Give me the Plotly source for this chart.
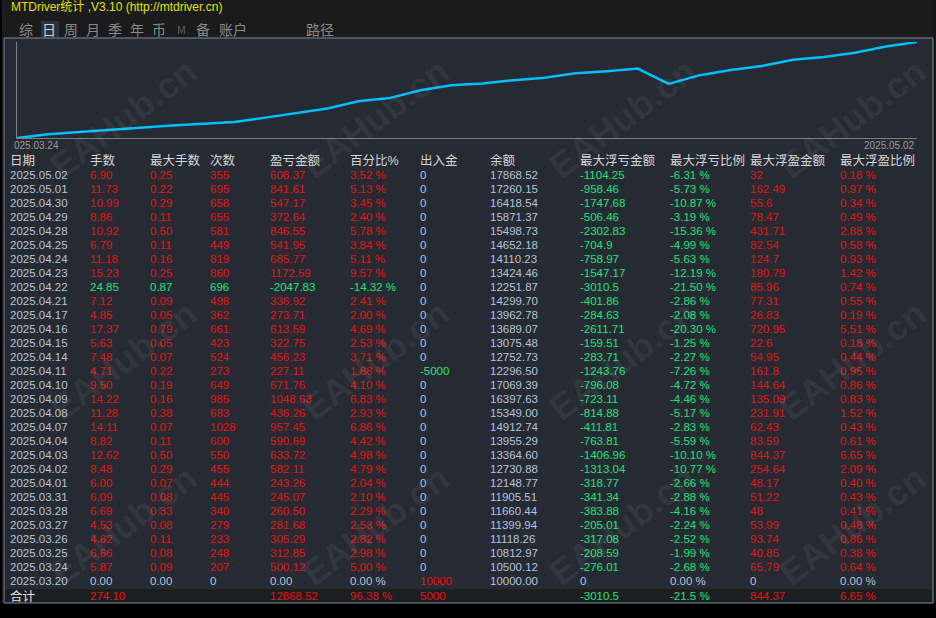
import numpy as np
import plotly.graph_objects as go

# ---- data ----
dates = ["2025.05.02", "2025.05.01", "2025.04.30", "2025.04.29", "2025.04.28", "2025.04.25",
         "2025.04.24", "2025.04.23", "2025.04.22", "2025.04.21", "2025.04.17", "2025.04.16",
         "2025.04.15", "2025.04.14", "2025.04.11", "2025.04.10", "2025.04.09", "2025.04.08",
         "2025.04.07", "2025.04.04", "2025.04.03", "2025.04.02", "2025.04.01", "2025.03.31",
         "2025.03.28", "2025.03.27", "2025.03.26", "2025.03.25", "2025.03.24", "2025.03.20"]
lots = [6.90, 11.73, 10.99, 8.86, 10.92, 6.79, 11.18, 15.23, 24.85, 7.12, 4.85, 17.37, 5.63, 7.48, 4.71,
        9.50, 14.22, 11.28, 14.11, 8.82, 12.62, 8.48, 6.00, 6.09, 6.69, 4.53, 4.62, 6.66, 5.87, 0.00]
max_lots = [0.25, 0.22, 0.29, 0.11, 0.50, 0.11, 0.16, 0.25, 0.87, 0.09, 0.05, 0.79, 0.05, 0.07, 0.22,
            0.19, 0.16, 0.38, 0.07, 0.11, 0.50, 0.29, 0.07, 0.08, 0.33, 0.08, 0.11, 0.08, 0.09, 0.00]
trades = [355, 695, 658, 655, 581, 449, 819, 860, 696, 498, 362, 661, 423, 524, 273,
          649, 985, 683, 1028, 600, 550, 455, 444, 445, 340, 279, 233, 248, 207, 0]
profit = [608.37, 841.61, 547.17, 372.64, 846.55, 541.95, 685.77, 1172.59, -2047.83, 336.92,
          273.71, 613.59, 322.75, 456.23, 227.11, 671.76, 1048.63, 436.26, 957.45, 590.69,
          633.72, 582.11, 243.26, 245.07, 260.50, 281.68, 305.29, 312.85, 500.12, 0.00]
profit_pct = [3.52, 5.13, 3.45, 2.40, 5.78, 3.84, 5.11, 9.57, -14.32, 2.41, 2.00, 4.69, 2.53, 3.71, 1.88,
              4.10, 6.83, 2.93, 6.86, 4.42, 4.98, 4.79, 2.04, 2.10, 2.29, 2.53, 2.82, 2.98, 5.00, 0.00]
cash_flow = [0, 0, 0, 0, 0, 0, 0, 0, 0, 0, 0, 0, 0, 0, -5000,
             0, 0, 0, 0, 0, 0, 0, 0, 0, 0, 0, 0, 0, 0, 10000]
balance = [17868.52, 17260.15, 16418.54, 15871.37, 15498.73, 14652.18, 14110.23, 13424.46, 12251.87,
           14299.70, 13962.78, 13689.07, 13075.48, 12752.73, 12296.50, 17069.39, 16397.63, 15349.00,
           14912.74, 13955.29, 13364.60, 12730.88, 12148.77, 11905.51, 11660.44, 11399.94, 11118.26,
           10812.97, 10500.12, 10000.00]
float_loss = [-1104.25, -958.46, -1747.68, -506.46, -2302.83, -704.9, -758.97, -1547.17, -3010.5,
              -401.86, -284.63, -2611.71, -159.51, -283.71, -1243.76, -796.08, -723.11, -814.88,
              -411.81, -763.81, -1406.96, -1313.04, -318.77, -341.34, -383.88, -205.01, -317.08,
              -208.59, -276.01, 0]
float_loss_pct = [-6.31, -5.73, -10.87, -3.19, -15.36, -4.99, -5.63, -12.19, -21.50, -2.86, -2.08,
                  -20.30, -1.25, -2.27, -7.26, -4.72, -4.46, -5.17, -2.83, -5.59, -10.10, -10.77,
                  -2.66, -2.88, -4.16, -2.24, -2.52, -1.99, -2.68, 0.00]
float_win = [32, 162.49, 55.6, 78.47, 431.71, 82.54, 124.7, 180.79, 85.96, 77.31, 26.83, 720.95,
             22.6, 54.95, 161.8, 144.64, 135.09, 231.91, 62.43, 83.59, 844.37, 254.64, 48.17,
             51.22, 48, 53.99, 93.74, 40.85, 65.79, 0]
float_win_pct = [0.18, 0.97, 0.34, 0.49, 2.88, 0.58, 0.93, 1.42, 0.74, 0.55, 0.19, 5.51, 0.18, 0.44,
                 0.95, 0.86, 0.83, 1.52, 0.43, 0.61, 6.65, 2.09, 0.40, 0.43, 0.41, 0.48, 0.86, 0.38,
                 0.64, 0.00]

headers = ["日期", "手数", "最大手数", "次数", "盈亏金额", "百分比%", "出入金", "余额",
           "最大浮亏金额", "最大浮亏比例", "最大浮盈金额", "最大浮盈比例"]
total_label = "合计"
total_lots = 274.10
total_profit = 12868.52
total_pct = 96.38
total_flow = 5000
total_float_loss = -3010.5
total_float_loss_pct = -21.5
total_float_win = 844.37
total_float_win_pct = 6.65

tabs = ["综", "日", "周", "月", "季", "年", "币", "M", "备", "账户", "路径"]
title = "MTDriver统计 ,V3.10 (http://mtdriver.cn)"

# ---- styling ----
W, H = 936, 618
RED = "#e81212"
GREEN = "#1fe37a"
LIGHT = "#b4c4da"
HEAD = "#d6d6d6"
PANEL = "#252a33"
FONT = "Arial, 'Liberation Sans', 'Noto Sans CJK SC', sans-serif"
CJK = "'Noto Sans CJK SC', sans-serif"
col_x = [10, 90, 150, 210, 270, 350, 420, 490, 580, 670, 750, 840]   # left edge of each column (px)


def px(x):
    return x / W


def py(y):
    return 1 - y / H


def sign_col(v):
    return RED if v > 0 else GREEN if v < 0 else LIGHT


def pct(v):
    return "{:.2f} %".format(v)


def g(v):
    return "{:g}".format(v)


# cell texts / colours, one list per column
n = len(dates)
day_colors = [sign_col(p) for p in profit]
columns = [
    (dates, [LIGHT] * n),
    (["{:.2f}".format(v) for v in lots], day_colors),
    (["{:.2f}".format(v) for v in max_lots], day_colors),
    ([str(v) for v in trades], day_colors),
    (["{:.2f}".format(v) for v in profit], day_colors),
    ([pct(v) for v in profit_pct], day_colors),
    ([str(v) for v in cash_flow], [sign_col(v) for v in cash_flow]),
    (["{:.2f}".format(v) for v in balance], [LIGHT] * n),
    ([g(v) for v in float_loss], [sign_col(v) for v in float_loss]),
    ([pct(v) for v in float_loss_pct], [sign_col(v) for v in float_loss_pct]),
    ([g(v) for v in float_win], [sign_col(v) for v in float_win]),
    ([pct(v) for v in float_win_pct], [sign_col(v) for v in float_win_pct]),
]
totals = [
    (total_label, "#e6e6e6"),
    ("{:.2f}".format(total_lots), RED), ("", RED), ("", RED),
    ("{:.2f}".format(total_profit), RED),
    (g(total_pct) + " %", RED),
    (str(total_flow), RED), ("", RED),
    (g(total_float_loss), GREEN),
    (g(total_float_loss_pct) + " %", GREEN),
    (g(total_float_win), RED),
    (g(total_float_win_pct) + " %", RED),
]

fig = go.Figure()

# cumulative profit curve (chronological)
cum = np.cumsum(np.array(profit[::-1]))
fig.add_trace(go.Scatter(x=np.arange(len(cum)), y=cum, mode="lines",
                         line=dict(color="#00bfff", width=2.5), hoverinfo="skip",
                         xaxis="x", yaxis="y"))

# table drawn as text on a row/column grid (total row sits a bit lower)
row_idx = list(range(n + 1)) + [n + 1.1]
for i, (texts, colors) in enumerate(columns):
    col_text = [headers[i]] + list(texts) + [totals[i][0]]
    col_colors = [HEAD] + list(colors) + [totals[i][1]]
    sizes = [12.5] + [11.5] * n + [12.5 if i == 0 else 11.5]
    fig.add_trace(go.Scatter(
        x=[col_x[i]] * len(col_text), y=row_idx,
        mode="text", text=col_text, textposition="middle right",
        textfont=dict(color=col_colors, size=sizes, family=FONT),
        hoverinfo="skip", xaxis="x2", yaxis="y2", cliponaxis=False))

row0, row_h = 162, 14
fig.update_layout(
    width=W, height=H, margin=dict(l=0, r=0, t=0, b=0),
    paper_bgcolor="#000000", plot_bgcolor="rgba(0,0,0,0)", showlegend=False,
    xaxis=dict(domain=[px(17), px(917)], range=[0, len(cum) - 1], showgrid=False, zeroline=False,
               showticklabels=False, showline=True, linecolor="#7c7c7c", linewidth=1, ticks=""),
    yaxis=dict(domain=[py(138), py(42)], range=[0, cum.max()], showgrid=False, zeroline=False,
               showticklabels=False, showline=True, linecolor="#7c7c7c", linewidth=1, ticks=""),
    xaxis2=dict(domain=[0, 1], range=[0, W], visible=False, anchor="y2"),
    yaxis2=dict(domain=[0, 1], range=[(H - row0) / row_h, -row0 / row_h], visible=False, anchor="x2"),
)

shapes = [
    dict(type="rect", x0=px(4), x1=px(933), y0=py(38), y1=py(0), fillcolor="#1b1b1b", line_width=0),
    dict(type="rect", x0=px(933), x1=px(936), y0=py(603), y1=py(0), fillcolor="#141414", line_width=0),
    dict(type="rect", x0=px(4), x1=px(933), y0=py(603), y1=py(38), fillcolor=PANEL,
         line=dict(color="#7f8a9a", width=1)),
    dict(type="rect", x0=px(5), x1=px(932), y0=py(602), y1=py(589), fillcolor="#1d1e21", line_width=0),
    dict(type="rect", x0=px(41), x1=px(59), y0=py(37), y1=py(21), fillcolor="#2c323b", line_width=0),
    dict(type="line", x0=px(3), x1=px(3), y0=py(603), y1=py(0), line=dict(color="#3a3a3a", width=1)),
]
for s in shapes:
    s.update(xref="paper", yref="paper", layer="below")
fig.update_layout(shapes=shapes)

ann = []
ann.append(dict(x=px(9), y=py(7), text=title, xanchor="left", yanchor="middle",
                font=dict(color="#e4e000", size=12, family=FONT)))
tab_x = [26, 49, 71, 93, 115, 137, 159, 181, 203, 233, 320]
for t, x in zip(tabs, tab_x):
    c = "#cfd3d8" if t == "日" else "#5e5e5e" if t == "M" else "#8a8a8a"
    ann.append(dict(x=px(x), y=py(29), text=t, xanchor="center", yanchor="middle",
                    font=dict(color=c, size=11 if t == "M" else 14, family=CJK)))
# first / last date of the curve
ann.append(dict(x=px(12), y=py(145), text=dates[-2][1:], xanchor="left", yanchor="middle",
                font=dict(color="#9a9a9a", size=10, family=FONT)))
ann.append(dict(x=px(916), y=py(145), text=dates[0], xanchor="right", yanchor="middle",
                font=dict(color="#9a9a9a", size=10, family=FONT)))
# watermark (kept inside the frame)
for wy in [118, 360, 525]:
    for wx in [123, 375, 622, 852]:
        ann.append(dict(x=px(wx), y=py(wy), text="<b>EAHub.cn</b>", textangle=-37,
                        xanchor="center", yanchor="middle",
                        font=dict(color="rgba(255,255,255,0.07)", size=36, family=FONT)))
for a in ann:
    a.update(xref="paper", yref="paper", showarrow=False)
fig.update_layout(annotations=ann)

fig.write_html("out.html", config={"displayModeBar": False},
               post_script="document.body.style.margin='0';")
